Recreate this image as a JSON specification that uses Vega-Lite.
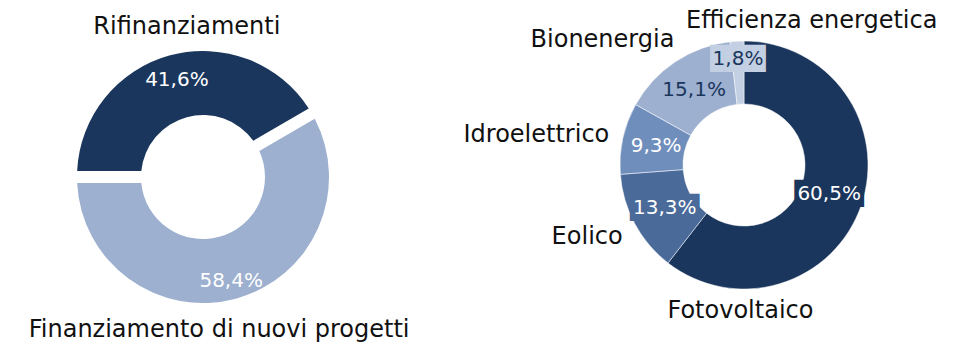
{
  "$schema": "https://vega.github.io/schema/vega-lite/v6.json",
  "padding": {"left": 0, "right": 0, "top": 9, "bottom": 0},
  "bounds": "flush",
  "spacing": 112,
  "background": "white",
  "config": {
    "view": {"stroke": null},
    "locale": {"number": {"decimal": ",", "thousands": ".", "grouping": [3], "currency": ["", " €"]}},
    "text": {"font": "DejaVu Sans"}
  },
  "resolve": {"scale": {"color": "independent", "theta": "independent"}},
  "hconcat": [
    {
      "width": 406,
      "height": 336,
      "data": {"values": [
        {"cat": "Rifinanziamenti", "share": 0.416},
        {"cat": "Finanziamento di nuovi progetti", "share": 0.584}
      ]},
      "transform": [{"window": [{"op": "row_number", "as": "i"}]}],
      "encoding": {
        "theta": {"field": "share", "type": "quantitative", "stack": true, "scale": {"range": [4.712389, 10.995574]}},
        "order": {"field": "i", "type": "quantitative"}
      },
      "layer": [
        {
          "mark": {"type": "arc", "innerRadius": 62, "outerRadius": 126, "padAngle": 0.085},
          "encoding": {
            "color": {"field": "cat", "type": "nominal", "legend": null,
              "scale": {"domain": ["Rifinanziamenti", "Finanziamento di nuovi progetti"], "range": ["#1a365d", "#9db0cf"]}}
          }
        },
        {
          "mark": {"type": "text", "radius": {"expr": "datum.cat === 'Rifinanziamenti' ? 100 : 108"}, "fontSize": 20, "fill": "white", "align": "center", "baseline": "middle"},
          "encoding": {
            "text": {"field": "share", "type": "quantitative", "format": ".1%"},
            "detail": {"field": "cat", "type": "nominal"}
          }
        },
        {
          "mark": {"type": "text", "radius": 150, "fontSize": 24, "fill": "#111111", "align": "center", "baseline": "middle",
            "dx": {"expr": "datum.cat === 'Rifinanziamenti' ? 23 : -23"},
            "dy": {"expr": "datum.cat === 'Rifinanziamenti' ? -5 : 8"}},
          "encoding": {
            "text": {"field": "cat", "type": "nominal"},
            "detail": {"field": "cat", "type": "nominal"}
          }
        }
      ]
    },
    {
      "width": 452,
      "height": 312,
      "data": {"values": [
        {"cat": "Fotovoltaico", "share": 0.605},
        {"cat": "Eolico", "share": 0.133},
        {"cat": "Idroelettrico", "share": 0.093},
        {"cat": "Bionenergia", "share": 0.151},
        {"cat": "Efficienza energetica", "share": 0.018}
      ]},
      "transform": [{"window": [{"op": "row_number", "as": "i"}]}],
      "encoding": {
        "theta": {"field": "share", "type": "quantitative", "stack": true},
        "order": {"field": "i", "type": "quantitative"}
      },
      "layer": [
        {
          "mark": {"type": "arc", "innerRadius": 61, "outerRadius": 124, "stroke": "white", "strokeWidth": 0.5},
          "encoding": {
            "color": {"field": "cat", "type": "nominal", "legend": null,
              "scale": {"domain": ["Fotovoltaico", "Eolico", "Idroelettrico", "Bionenergia", "Efficienza energetica"],
                        "range": ["#1a365d", "#4a6a9a", "#6f8ebc", "#9db0cf", "#c3cfe2"]}}
          }
        },
        {
          "transform": [{"calculate": "indexof(['Fotovoltaico', 'Eolico', 'Efficienza energetica'], datum.cat) >= 0 ? pad('', length(format(datum.share, '.1%')), '█') : ''", "as": "box"}],
          "mark": {"type": "text", "font": "DejaVu Sans Mono", "fontSize": 23, "align": "center", "baseline": "middle",
            "radius": {"expr": "datum.cat === 'Efficienza energetica' ? 106 : 90"}},
          "encoding": {
            "text": {"field": "box", "type": "nominal"},
            "color": {"field": "cat", "type": "nominal", "legend": null}
          }
        },
        {
          "mark": {"type": "text", "fontSize": 20, "align": "center", "baseline": "middle",
            "radius": {"expr": "datum.cat === 'Efficienza energetica' ? 106 : 90"}},
          "encoding": {
            "text": {"field": "share", "type": "quantitative", "format": ".1%"},
            "detail": {"field": "cat", "type": "nominal"},
            "color": {"condition": {"test": "datum.cat === 'Bionenergia' || datum.cat === 'Efficienza energetica'", "value": "#1a365d"}, "value": "white"}
          }
        },
        {
          "mark": {"type": "text", "radius": 140, "fontSize": 24, "fill": "#111111", "baseline": "middle",
            "align": {"expr": "datum.cat === 'Efficienza energetica' ? 'left' : datum.cat === 'Fotovoltaico' ? 'center' : 'right'"},
            "dx": {"expr": "datum.cat === 'Fotovoltaico' ? -136 : datum.cat === 'Efficienza energetica' ? -50 : datum.cat === 'Bionenergia' ? 8 : 2"},
            "dy": {"expr": "datum.cat === 'Fotovoltaico' ? 101 : datum.cat === 'Efficienza energetica' ? -4 : datum.cat === 'Bionenergia' ? -8 : datum.cat === 'Eolico' ? 6 : 0"}},
          "encoding": {
            "text": {"field": "cat", "type": "nominal"},
            "detail": {"field": "cat", "type": "nominal"}
          }
        }
      ]
    }
  ]
}
